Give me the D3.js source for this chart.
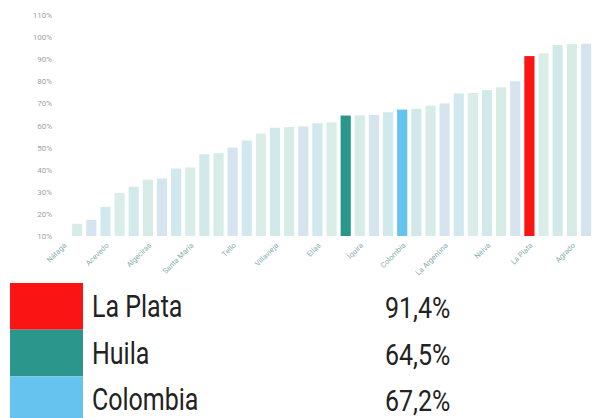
<!DOCTYPE html>
<html>
<head>
<meta charset="utf-8">
<script src="https://cdn.jsdelivr.net/npm/d3@7"></script>
<style>
  html, body { margin: 0; padding: 0; background: #fff; }
  svg { display: block; font-family: Roboto, "Noto Sans", sans-serif; }
</style>
</head>
<body>
<svg id="chart" width="595" height="418"></svg>
<script>
// ---- data ----
const categories = ["Nátaga","Tarqui","Oporapa","Acevedo","Saladoblanco","Isnos","Algeciras","Palestina","Suaza","Santa María",
  "Teruel","Guadalupe","Tello","Baraya","Pital","Villavieja","Paicol","Tesalia","Elías","Hobo",
  "Huila","Íquira","Timaná","Palermo","Colombia","Altamira","Aipe","La Argentina","Gigante","San Agustín",
  "Neiva","Garzón","Campoalegre","La Plata","Pitalito","Rivera","Agrado","Yaguará"];
const values = [9.8,15.5,17.3,23.2,29.5,32.3,35.5,36,40.5,41,
  47,47.5,50,53.2,56.4,59,59.3,59.6,61,61.4,
  64.5,64.6,64.8,66,67.2,67.5,69,70,74.5,74.7,
  76,77.3,80,91.4,92.7,96.4,96.8,97];
const yTicks = [10,20,30,40,50,60,70,80,90,100,110];
const highlightNames = ["La Plata","Huila","Colombia"];
const highlightValues = [91.4,64.5,67.2];
const highlightColors = ["#fb1414","#2a968c","#66c2ef"];
const paleColors = ["#d2e9ec","#d7ece6","#d5e4ef","#d0e9ef","#daede8"];

// ---- chart ----
const svg = d3.select("#chart");
const x = d3.scaleBand().domain(categories).range([56, 593]).paddingInner(0.28).paddingOuter(0.14);
const y = d3.scaleLinear().domain([10, 110]).range([236, 15]);

const colorOf = (name, i) => {
  const k = highlightNames.indexOf(name);
  return k >= 0 ? highlightColors[k] : paleColors[i % paleColors.length];
};

svg.append("g").selectAll("rect")
  .data(categories)
  .join("rect")
  .attr("x", d => x(d))
  .attr("width", x.bandwidth())
  .attr("y", (d, i) => y(Math.max(10, values[i])))
  .attr("height", (d, i) => y(10) - y(Math.max(10, values[i])))
  .attr("fill", (d, i) => colorOf(d, i));

// y axis
const yAxis = svg.append("g")
  .attr("transform", "translate(56,0)")
  .call(d3.axisLeft(y).tickValues(yTicks).tickFormat(d => d + "%").tickSize(0).tickPadding(4));
yAxis.select(".domain").remove();
yAxis.selectAll("text").attr("fill", "#a0a0a0").attr("font-size", 8).attr("font-family", "Roboto, sans-serif");

// x axis
const xAxis = svg.append("g")
  .attr("transform", "translate(0,236)")
  .call(d3.axisBottom(x).tickValues(categories.filter((d, i) => i % 3 === 0)).tickSize(0));
xAxis.select(".domain").remove();
xAxis.selectAll("text")
  .attr("x", 0).attr("y", 0).attr("dy", "0.35em").attr("dx", "-0.2em")
  .attr("transform", "translate(3,7) rotate(-45)")
  .attr("text-anchor", "end")
  .attr("fill", "#8aaeb0")
  .attr("font-size", 7.5)
  .attr("font-family", "Roboto, sans-serif");

// ---- legend ----
const legY = d3.scaleBand().domain(highlightNames).range([283, 423]).padding(0);
const leg = svg.append("g");
const rows = leg.selectAll("g").data(highlightNames).join("g");
rows.append("rect")
  .attr("x", 10).attr("width", 73)
  .attr("y", d => legY(d)).attr("height", legY.bandwidth())
  .attr("fill", (d, i) => highlightColors[i]);
rows.append("text")
  .attr("transform", d => `translate(92,${legY(d) + 34}) scale(1,1.22)`)
  .attr("font-size", 25).attr("fill", "#222")
  .text(d => d);
rows.append("text")
  .attr("transform", d => `translate(385,${legY(d) + 35}) scale(1,1.2)`)
  .attr("font-size", 25).attr("fill", "#222")
  .text((d, i) => highlightValues[i].toFixed(1).replace(".", ",") + "%");
</script>
</body>
</html>
